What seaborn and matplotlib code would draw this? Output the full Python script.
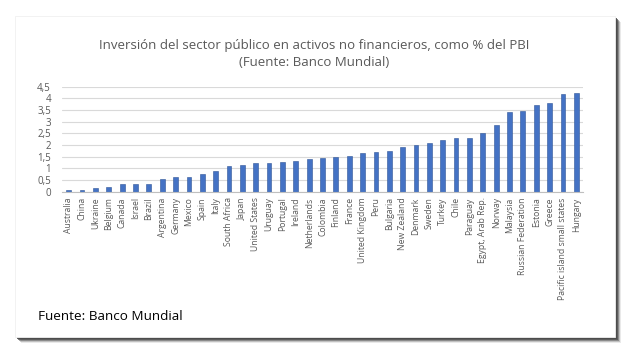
import matplotlib
matplotlib.use("Agg")
import matplotlib.pyplot as plt
import seaborn as sns
import pandas as pd
from matplotlib.patches import Rectangle
from matplotlib.ticker import FuncFormatter

sns.set_theme(style="white")
plt.rcParams['font.family'] = ['Open Sans', 'DejaVu Sans']

paises = ["Australia", "China", "Ukraine", "Belgium", "Canada", "Israel", "Brazil",
          "Argentina", "Germany", "Mexico", "Spain", "Italy", "South Africa", "Japan",
          "United States", "Uruguay", "Portugal", "Ireland", "Netherlands", "Colombia",
          "Finland", "France", "United Kingdom", "Peru", "Bulgaria", "New Zealand",
          "Denmark", "Sweden", "Turkey", "Chile", "Paraguay", "Egypt, Arab Rep.",
          "Norway", "Malaysia", "Russian Federation", "Estonia", "Greece",
          "Pacific island small states", "Hungary"]
inversion = [0.06, 0.06, 0.14, 0.20, 0.33, 0.33, 0.33, 0.53, 0.62, 0.62, 0.76, 0.90,
             1.09, 1.13, 1.23, 1.23, 1.29, 1.33, 1.39, 1.43, 1.47, 1.52, 1.66, 1.72,
             1.76, 1.90, 1.99, 2.09, 2.23, 2.29, 2.29, 2.52, 2.85, 3.42, 3.46, 3.71,
             3.79, 4.18, 4.22]

df = pd.DataFrame({"pais": paises, "valor": inversion})

W, H = 630, 355
fig = plt.figure(figsize=(W / 100, H / 100), dpi=100)
fig.patch.set_facecolor("white")

# marco con sombra (como una captura pegada en un documento)
for d, a in [(6, 0.12), (5, 0.25), (4, 0.45), (3, 0.7), (2, 0.85)]:
    fig.patches.append(Rectangle(((15 + d) / W, 1 - (337 + d) / H), 600 / W, 321 / H,
                                 transform=fig.transFigure, facecolor="#4a4a4a",
                                 edgecolor="none", alpha=a, zorder=0))
fig.patches.append(Rectangle((15 / W, 1 - 337 / H), 600 / W, 321 / H,
                             transform=fig.transFigure, facecolor="white",
                             edgecolor="#f0f0f0", linewidth=0.6, zorder=1))

ax = fig.add_axes([62 / W, 1 - 191.7 / H, (583 - 62) / W, 105 / H])
ax.set_facecolor("none")
ax.set_zorder(2)

sns.barplot(data=df, x="pais", y="valor", color="#4472C4", width=0.36,
            saturation=1, edgecolor="#2f5597", linewidth=0.4, ax=ax)

ax.set_xlim(-0.5, len(paises) - 0.5)
ax.set_ylim(0, 4.5)
ax.set_yticks([i * 0.5 for i in range(10)])
ax.yaxis.set_major_formatter(FuncFormatter(lambda v, p: f"{v:g}".replace(".", ",")))
ax.grid(axis="y", color="#d9d9d9", linewidth=0.8)
ax.set_axisbelow(True)
for s in ["top", "right", "left"]:
    ax.spines[s].set_visible(False)
ax.spines["bottom"].set_color("#bfbfbf")
ax.spines["bottom"].set_linewidth(0.8)

ax.tick_params(axis="y", labelsize=7, labelcolor="#595959", length=0, pad=8)
ax.tick_params(axis="x", labelsize=6.2, labelcolor="#595959", length=0, pad=4)
plt.setp(ax.get_xticklabels(), rotation=90, ha="center", va="top")
ax.set_xlabel("")
ax.set_ylabel("")

fig.text(314 / W, 1 - 45 / H, "Inversión del sector público en activos no financieros, como % del PBI",
         ha="center", va="center", fontsize=9.5, color="#595959")
fig.text(314 / W, 1 - 62 / H, "(Fuente: Banco Mundial)",
         ha="center", va="center", fontsize=9.5, color="#595959")

fig.text(38 / W, 1 - 317 / H, "Fuente: Banco Mundial", ha="left", va="center",
         fontsize=9.7, color="black")

fig.savefig("out.png", dpi=100)
